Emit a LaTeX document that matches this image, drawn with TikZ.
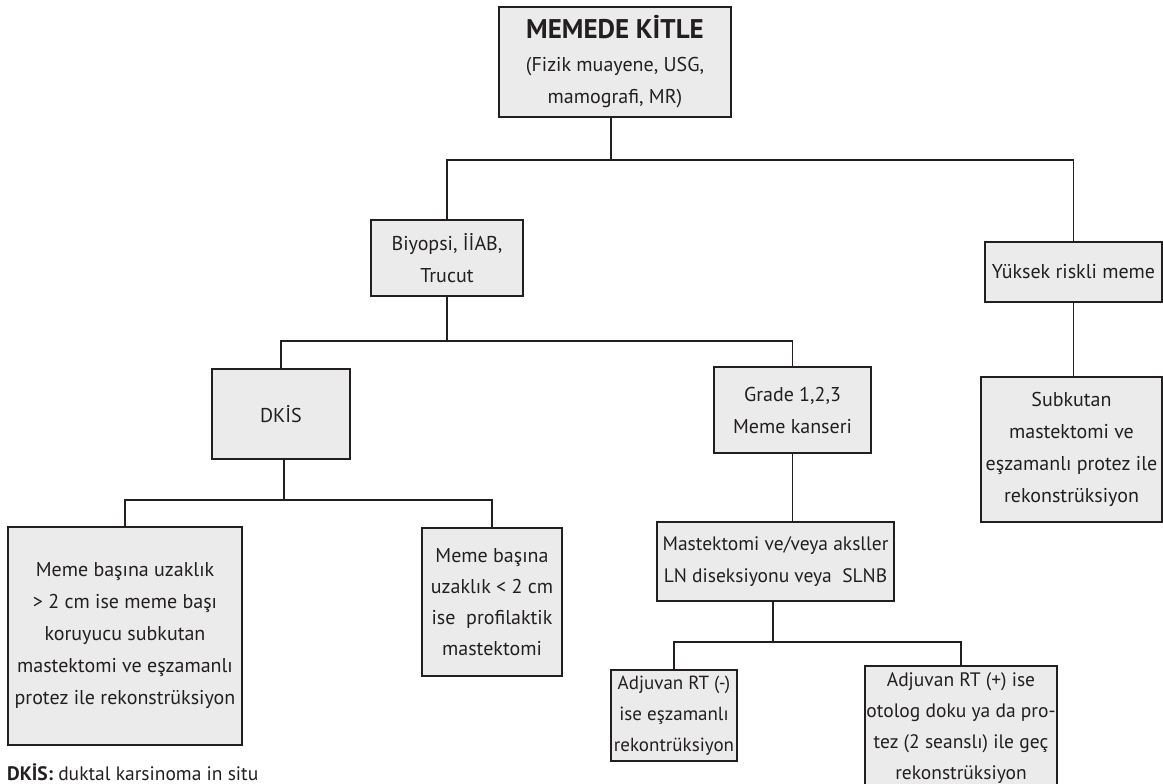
\documentclass[tikz,border=0pt]{standalone}
\usepackage{fontspec}
\setmainfont{PT Sans}
\definecolor{lineC}{RGB}{35,31,32}
\definecolor{boxC}{RGB}{235,235,235}
\begin{document}
\begin{tikzpicture}[x=1pt,y=-1pt,
  box/.style={draw=lineC, fill=boxC, line width=2.8pt, inner sep=0pt, align=center,
    font=\fontsize{20}{32}\selectfont, text=lineC},
  conn/.style={draw=lineC, line width=1.8pt},
  note/.style={font=\fontsize{19.5}{24}\selectfont, text=lineC, inner sep=0pt}]
\useasboundingbox (0,0) rectangle (1163,784);

\node[box, minimum width=232pt, minimum height=110pt] (top) at (615,62)
  {{\fontsize{27}{36}\selectfont\bfseries MEMEDE KİTLE}\\[1pt](Fizik muayene, USG,\\mamografi, MR)};
\node[box, minimum width=152pt, minimum height=76pt] (bio) at (447,258)
  {Biyopsi, İİAB,\\Trucut};
\node[box, minimum width=177pt, minimum height=60pt] (yuk) at (1073.5,272)
  {Yüksek riskli meme};
\node[box, minimum width=181pt, minimum height=145pt] (sub) at (1071.5,449.5)
  {Subkutan\\mastektomi ve\\eşzamanlı protez ile\\rekonstrüksiyon};
\node[box, minimum width=138pt, minimum height=90pt] (dkis) at (281,414)
  {DKİS};
\node[box, minimum width=157pt, minimum height=86pt] (grade) at (792.5,410)
  {Grade 1,2,3\\Meme kanseri};
\node[box, minimum width=237pt, minimum height=79pt, font=\fontsize{19.5}{32}\selectfont] (mast) at (775.5,561.5)
  {Mastektomi ve/veya aksller\\LN diseksiyonu veya~ SLNB};
\node[box, minimum width=126pt, minimum height=91pt, font=\fontsize{19}{31}\selectfont] (adjm) at (674,715.5)
  {Adjuvan RT (-)\\ise eşzamanlı\\rekontrüksiyon};
\node[box, minimum width=192pt, minimum height=124pt, font=\fontsize{19.5}{31}\selectfont] (adjp) at (961,728)
  {Adjuvan RT (+) ise\\otolog doku ya da pro-\\tez (2 seanslı) ile geç\\rekonstrüksiyon};
\node[box, minimum width=234pt, minimum height=218pt] (left) at (125,636)
  {Meme başına uzaklık\\> 2 cm ise meme başı\\koruyucu subkutan\\mastektomi ve eşzamanlı\\protez ile rekonstrüksiyon};
\node[box, minimum width=140pt, minimum height=148pt, font=\fontsize{20}{31}\selectfont] (rsmall) at (492,602)
  {Meme başına\\uzaklık < 2 cm\\ise~ profilaktik\\mastektomi};
\node[note, anchor=west] (foot) at (7,772) {\textbf{DKİS:} duktal karsinoma in situ};

\coordinate (b1) at (611,160);
\draw[conn] (top.south -| b1) -- (b1);
\draw[conn] (bio.north) |- (b1) -| (yuk.north);
\draw[conn] (yuk.south) -- (sub.north -| yuk.south);

\coordinate (b2) at (447,341);
\draw[conn] (bio.south) -- (b2);
\draw[conn] (dkis.north) |- (b2) -| (grade.north);

\coordinate (b3) at (284,500);
\draw[conn] (dkis.south -| b3) -- (b3);
\draw[conn] (left.north) |- (b3) -| (rsmall.north);

\draw[conn] (grade.south) -- (mast.north -| grade.south);

\coordinate (b4) at (773,642);
\draw[conn] (mast.south -| b4) -- (b4);
\draw[conn] (adjm.north) |- (b4) -| (adjp.north);
\end{tikzpicture}
\end{document}
